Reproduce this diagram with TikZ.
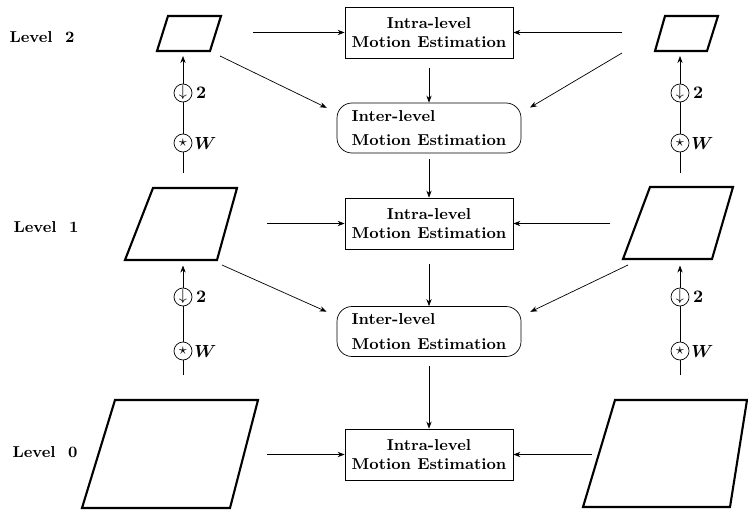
\documentclass[tikz,border=0pt]{standalone}
\usetikzlibrary{arrows.meta}
\begin{document}
\begin{tikzpicture}[font=\small\bfseries,
  box/.style={draw, minimum width=3.36cm, minimum height=1.02cm, align=center, inner sep=1pt},
  roundbox/.style={draw, rounded corners=0.3cm, minimum width=3.68cm, minimum height=1cm, align=left, inner sep=1pt},
  frame/.style={line width=1.2pt, line join=miter},
  op/.style={draw, circle, minimum size=0.36cm, inner sep=0pt, font=\small},
  conn/.style={-{Stealth[length=4pt,width=3pt]}}]
\useasboundingbox (0,0) rectangle (14.96,10.18);

% level names
\node (lab2) at (0.84,9.44) {Level~~2};
\node (lab1) at (0.92,5.64) {Level~~1};
\node (lab0) at (0.90,1.14) {Level~~0};

% estimation boxes
\node[box] (intra2) at (8.58,9.53) {Intra-level\\Motion Estimation};
\node[roundbox] (inter1) at (8.58,7.62) {Inter-level\\[3pt]Motion Estimation};
\node[box] (intra1) at (8.58,5.71) {Intra-level\\Motion Estimation};
\node[roundbox] (inter0) at (8.58,3.55) {Inter-level\\[3pt]Motion Estimation};
\node[box] (intra0) at (8.58,1.09) {Intra-level\\Motion Estimation};

% frames
\draw[frame] (3.14,9.16) -- (4.20,9.16) -- (4.42,9.86) -- (3.36,9.86) -- cycle;
\draw[frame] (13.10,9.16) -- (14.14,9.16) -- (14.36,9.86) -- (13.30,9.86) -- cycle;
\draw[frame] (2.50,4.98) -- (4.34,4.98) -- (4.74,6.42) -- (3.06,6.42) -- cycle;
\draw[frame] (12.46,5.00) -- (14.24,5.00) -- (14.66,6.44) -- (13.00,6.44) -- cycle;
\draw[frame] (1.64,0.02) -- (4.60,0.02) -- (5.16,2.18) -- (2.30,2.18) -- cycle;
\draw[frame] (11.66,0.04) -- (14.60,0.04) -- (14.94,2.18) -- (12.30,2.18) -- cycle;

% filter and downsampling, left
\node[op] (ds2l) at (3.66,8.32) {$\downarrow$};
\node[op] (cv2l) at (3.66,7.32) {$\star$};
\node[op] (ds1l) at (3.66,4.24) {$\downarrow$};
\node[op] (cv1l) at (3.66,3.16) {$\star$};
% filter and downsampling, right
\node[op] (ds2r) at (13.60,8.32) {$\downarrow$};
\node[op] (cv2r) at (13.60,7.32) {$\star$};
\node[op] (ds1r) at (13.60,4.24) {$\downarrow$};
\node[op] (cv1r) at (13.60,3.16) {$\star$};

\foreach \n in {ds2l,ds1l,ds2r,ds1r}
  \node[anchor=west, inner sep=2pt, font=\normalsize\bfseries] (f\n) at (\n.east) {2};
\foreach \n in {cv2l,cv1l,cv2r,cv1r}
  \node[anchor=west, inner sep=1pt, font=\normalsize\boldmath] (w\n) at (\n.east) {$W$};

\coordinate (in2l) at (3.66,6.72);
\coordinate (out2l) at (3.66,9.06);
\coordinate (in1l) at (3.66,2.68);
\coordinate (out1l) at (3.66,4.87);
\coordinate (in2r) at (13.60,6.72);
\coordinate (out2r) at (13.60,9.06);
\coordinate (in1r) at (13.60,2.68);
\coordinate (out1r) at (13.60,4.87);

\draw (in2l) -- (cv2l);
\draw (cv2l) -- (ds2l);
\draw[conn] (ds2l) -- (out2l);
\draw (in1l) -- (cv1l);
\draw (cv1l) -- (ds1l);
\draw[conn] (ds1l) -- (out1l);
\draw (in2r) -- (cv2r);
\draw (cv2r) -- (ds2r);
\draw[conn] (ds2r) -- (out2r);
\draw (in1r) -- (cv1r);
\draw (cv1r) -- (ds1r);
\draw[conn] (ds1r) -- (out1r);

% intra-level inputs
\coordinate (h2l) at (5.06,9.53);
\coordinate (h2r) at (12.44,9.53);
\coordinate (h1l) at (5.34,5.71);
\coordinate (h1r) at (12.20,5.71);
\coordinate (h0l) at (5.34,1.09);
\coordinate (h0r) at (11.84,1.09);
\draw[conn] (h2l) -- (intra2);
\draw[conn] (h2r) -- (intra2);
\draw[conn] (h1l) -- (intra1);
\draw[conn] (h1r) -- (intra1);
\draw[conn] (h0l) -- (intra0);
\draw[conn] (h0r) -- (intra0);

% inter-level inputs
\coordinate (d2l) at (4.40,9.06);
\coordinate (d2r) at (12.44,9.12);
\coordinate (d1l) at (4.44,4.88);
\coordinate (d1r) at (12.56,4.88);
\draw[conn, shorten >=0.22cm] (d2l) -- ([yshift=-0.2cm]inter1.north west);
\draw[conn, shorten >=0.2cm] (d2r) -- ([yshift=-0.2cm]inter1.north east);
\draw[conn, shorten >=0.22cm] (d1l) -- ([yshift=-0.2cm]inter0.north west);
\draw[conn, shorten >=0.2cm] (d1r) -- ([yshift=-0.2cm]inter0.north east);

% down the pyramid
\draw[conn, shorten <=0.2cm] (intra2) -- (inter1);
\draw[conn, shorten <=0.12cm] (inter1) -- (intra1);
\draw[conn, shorten <=0.3cm] (intra1) -- (inter0);
\draw[conn, shorten <=0.18cm] (inter0) -- (intra0);
\end{tikzpicture}
\end{document}
